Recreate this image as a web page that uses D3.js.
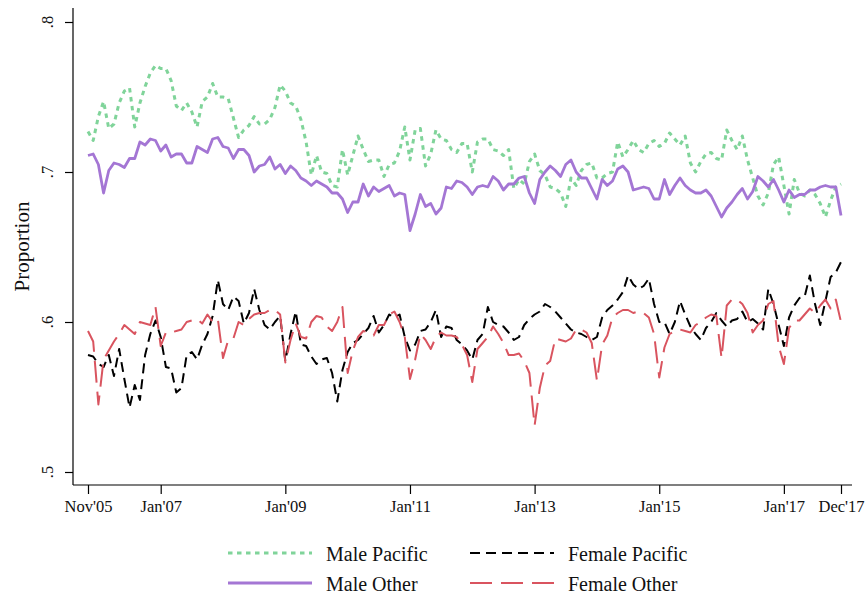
<!DOCTYPE html>
<html><head><meta charset="utf-8">
<script src="https://cdn.jsdelivr.net/npm/d3@7"></script>
<style>body{margin:0;background:#fff;} text{font-family:"Liberation Serif","Times New Roman",serif;fill:#111;}</style>
</head><body><svg id="c" width="867" height="598"></svg>
<script>
// month index 0 = Nov 2005 ... 145 = Dec 2017
const xTickIdx = [0, 14, 38, 62, 86, 110, 134, 145];
const xTickLabels = ["Nov'05","Jan'07","Jan'09","Jan'11","Jan'13","Jan'15","Jan'17","Dec'17"];
const yTicks = [0.5, 0.6, 0.7, 0.8];
const yTickLabels = [".5", ".6", ".7", ".8"];
const seriesNames = ["Male Pacific", "Male Other", "Female Pacific", "Female Other"];

const malePacific = [0.727,0.721,0.737,0.747,0.729,0.732,0.746,0.754,0.756,0.730,
0.746,0.757,0.766,0.771,0.769,0.769,0.761,0.744,0.741,0.746,
0.740,0.730,0.747,0.750,0.759,0.750,0.750,0.749,0.736,0.723,
0.728,0.731,0.737,0.732,0.732,0.735,0.743,0.758,0.754,0.746,
0.744,0.735,0.720,0.698,0.711,0.700,0.699,0.691,0.690,0.715,
0.698,0.711,0.724,0.715,0.707,0.708,0.708,0.697,0.705,0.706,
0.714,0.730,0.708,0.728,0.729,0.704,0.712,0.728,0.722,0.721,
0.715,0.713,0.719,0.719,0.700,0.720,0.722,0.722,0.715,0.714,
0.711,0.715,0.689,0.695,0.692,0.707,0.712,0.701,0.698,0.690,
0.689,0.686,0.677,0.696,0.691,0.701,0.705,0.706,0.696,0.696,
0.699,0.700,0.720,0.710,0.715,0.721,0.715,0.713,0.719,0.721,
0.717,0.719,0.726,0.722,0.718,0.724,0.706,0.700,0.707,0.712,
0.713,0.709,0.708,0.728,0.721,0.715,0.724,0.708,0.696,0.684,
0.678,0.686,0.705,0.710,0.691,0.672,0.695,0.686,0.684,0.688,
0.685,0.679,0.670,0.681,0.690,0.692];

const maleOther = [0.711,0.712,0.705,0.686,0.701,0.706,0.705,0.703,0.709,0.709,
0.720,0.718,0.722,0.721,0.714,0.718,0.710,0.712,0.712,0.706,
0.706,0.717,0.715,0.713,0.722,0.723,0.717,0.716,0.709,0.715,
0.715,0.711,0.700,0.704,0.705,0.710,0.702,0.705,0.699,0.704,
0.701,0.696,0.694,0.691,0.694,0.692,0.690,0.686,0.686,0.682,
0.673,0.680,0.680,0.692,0.684,0.690,0.687,0.689,0.691,0.684,
0.686,0.685,0.661,0.672,0.685,0.677,0.679,0.672,0.676,0.690,
0.689,0.694,0.693,0.690,0.685,0.690,0.691,0.690,0.697,0.694,
0.688,0.692,0.692,0.696,0.697,0.686,0.679,0.695,0.700,0.704,
0.701,0.697,0.705,0.708,0.700,0.696,0.696,0.689,0.682,0.695,
0.691,0.694,0.702,0.704,0.700,0.688,0.689,0.690,0.689,0.682,
0.682,0.695,0.685,0.691,0.696,0.691,0.688,0.686,0.686,0.688,
0.684,0.677,0.670,0.676,0.680,0.685,0.689,0.682,0.687,0.697,
0.694,0.690,0.695,0.688,0.680,0.688,0.683,0.685,0.685,0.688,
0.688,0.690,0.691,0.690,0.690,0.671];

const femalePacific = [0.578,0.577,0.572,0.570,0.578,0.564,0.582,0.562,0.543,0.558,
0.548,0.578,0.592,0.601,0.590,0.570,0.569,0.553,0.556,0.578,
0.580,0.575,0.585,0.592,0.604,0.628,0.612,0.608,0.617,0.614,
0.599,0.606,0.622,0.608,0.598,0.595,0.600,0.604,
0.574,0.592,0.607,0.585,0.584,0.577,0.572,0.575,0.576,0.566,
0.547,0.568,0.580,0.586,0.588,0.592,0.596,0.604,0.593,0.598,
0.605,0.603,0.605,0.590,0.581,0.585,0.594,0.595,0.600,0.608,
0.590,0.597,0.596,0.588,0.585,0.581,
0.575,0.588,0.592,0.610,0.600,0.598,0.597,0.593,0.588,0.590,
0.598,0.602,0.605,0.607,0.612,0.610,0.607,0.603,0.599,0.595,
0.593,0.592,0.590,0.588,0.590,0.603,0.608,0.611,0.615,0.620,
0.631,0.625,0.622,0.624,0.629,0.612,0.600,
0.600,0.592,0.600,0.614,0.605,0.597,0.592,0.588,0.596,0.600,
0.606,0.601,0.597,0.601,0.602,0.607,0.600,0.602,0.599,0.595,
0.622,0.612,0.598,0.584,0.603,0.611,0.616,0.617,0.631,0.612,
0.598,0.614,0.630,0.633,0.640];

const femaleOther = [0.594,0.587,0.545,0.575,0.581,0.587,0.592,0.598,0.595,0.592,
0.600,0.599,0.598,0.610,0.584,0.593,0.593,0.594,0.595,0.600,
0.601,0.602,0.599,0.605,0.600,0.602,0.576,0.588,0.589,0.600,
0.598,0.602,0.605,0.606,0.606,0.608,0.608,0.605,
0.573,0.588,0.599,0.590,0.589,0.600,0.604,0.603,0.597,0.594,
0.600,0.610,0.566,0.581,0.590,0.594,0.593,0.591,0.598,0.598,
0.605,0.607,0.600,0.590,0.562,0.575,0.592,0.588,0.582,0.590,
0.593,0.591,0.591,0.590,0.585,0.578,
0.560,0.582,0.586,0.590,0.597,0.592,0.586,0.578,0.578,0.579,
0.574,0.566,0.531,0.556,0.571,0.574,0.589,0.588,0.587,0.589,
0.595,0.595,0.593,0.586,0.561,0.585,0.591,0.603,0.606,0.608,
0.608,0.606,0.607,0.606,0.603,0.592,0.563,
0.583,0.592,0.594,0.595,0.594,0.593,0.598,0.600,0.603,0.605,
0.604,0.576,0.611,0.615,0.615,0.612,0.606,0.593,0.598,0.601,
0.612,0.614,0.584,0.572,0.596,0.601,0.601,0.605,0.609,0.606,
0.611,0.615,0.609,0.615,0.600];

const styles = [
  {color:"#80d49a", width:3,   dash:"4.5,4.5"},
  {color:"#a476d4", width:2.8, dash:null},
  {color:"#000000", width:2,   dash:"10,6"},
  {color:"#d9545f", width:2,   dash:"22,9"}
];
const allSeries = [malePacific, maleOther, femalePacific, femaleOther];

const svg = d3.select("#c");
const x = d3.scaleLinear().domain([0, 145]).range([88, 841]);
const y = d3.scaleLinear().domain([0.5, 0.8]).range([472, 22]);
const axisLeftX = 73, axisBottomY = 485;

// axes lines
svg.append("line").attr("x1", axisLeftX).attr("x2", axisLeftX)
  .attr("y1", 8).attr("y2", axisBottomY).attr("stroke", "#000").attr("stroke-width", 1.2);
svg.append("line").attr("x1", axisLeftX).attr("x2", 852)
  .attr("y1", axisBottomY).attr("y2", axisBottomY).attr("stroke", "#000").attr("stroke-width", 1.2);

// y axis
const yAxis = d3.axisLeft(y).tickValues(yTicks).tickSize(8).tickFormat("");
const gy = svg.append("g").attr("transform", `translate(${axisLeftX},0)`).call(yAxis);
gy.select(".domain").remove();
gy.selectAll(".tick line").attr("stroke", "#000").attr("stroke-width", 1.2);
yTicks.forEach((t, k) => {
  svg.append("text").attr("transform", `translate(53,${y(t)}) rotate(-90)`)
    .attr("text-anchor", "middle").style("font-size", "16.5px").text(yTickLabels[k]);
});
svg.append("text").attr("transform", `translate(29,${(8 + axisBottomY) / 2}) rotate(-90)`)
  .attr("text-anchor", "middle").style("font-size", "21px").text("Proportion");

// x axis
const xAxis = d3.axisBottom(x).tickValues(xTickIdx).tickSize(9)
  .tickFormat((d, k) => xTickLabels[k]);
const gx = svg.append("g").attr("transform", `translate(0,${axisBottomY})`).call(xAxis);
gx.select(".domain").remove();
gx.selectAll(".tick line").attr("stroke", "#000").attr("stroke-width", 1.2);
gx.selectAll(".tick text").attr("y", 27).attr("dy", 0)
  .style("font-size", "16.5px").style("font-family", "Liberation Serif, serif").attr("fill", "#111");

// lines
const line = d3.line().x((d, i) => x(i)).y(d => y(d));
allSeries.forEach((s, k) => {
  const p = svg.append("path").datum(s).attr("d", line)
    .attr("fill", "none").attr("stroke", styles[k].color)
    .attr("stroke-width", styles[k].width).attr("stroke-linejoin", "round");
  if (styles[k].dash) p.attr("stroke-dasharray", styles[k].dash);
});

// legend
const legPos = [
  {lx: 228, ly: 553, tx: 326},
  {lx: 228, ly: 583, tx: 326},
  {lx: 470, ly: 553, tx: 568},
  {lx: 470, ly: 583, tx: 568}
];
seriesNames.forEach((n, k) => {
  const L = legPos[k];
  const ln = svg.append("line").attr("x1", L.lx).attr("x2", L.lx + 84)
    .attr("y1", L.ly).attr("y2", L.ly).attr("stroke", styles[k].color)
    .attr("stroke-width", styles[k].width);
  if (styles[k].dash) ln.attr("stroke-dasharray", styles[k].dash);
  svg.append("text").attr("x", L.tx).attr("y", L.ly + 8).style("font-size", "20px").text(n);
});
</script></body></html>
